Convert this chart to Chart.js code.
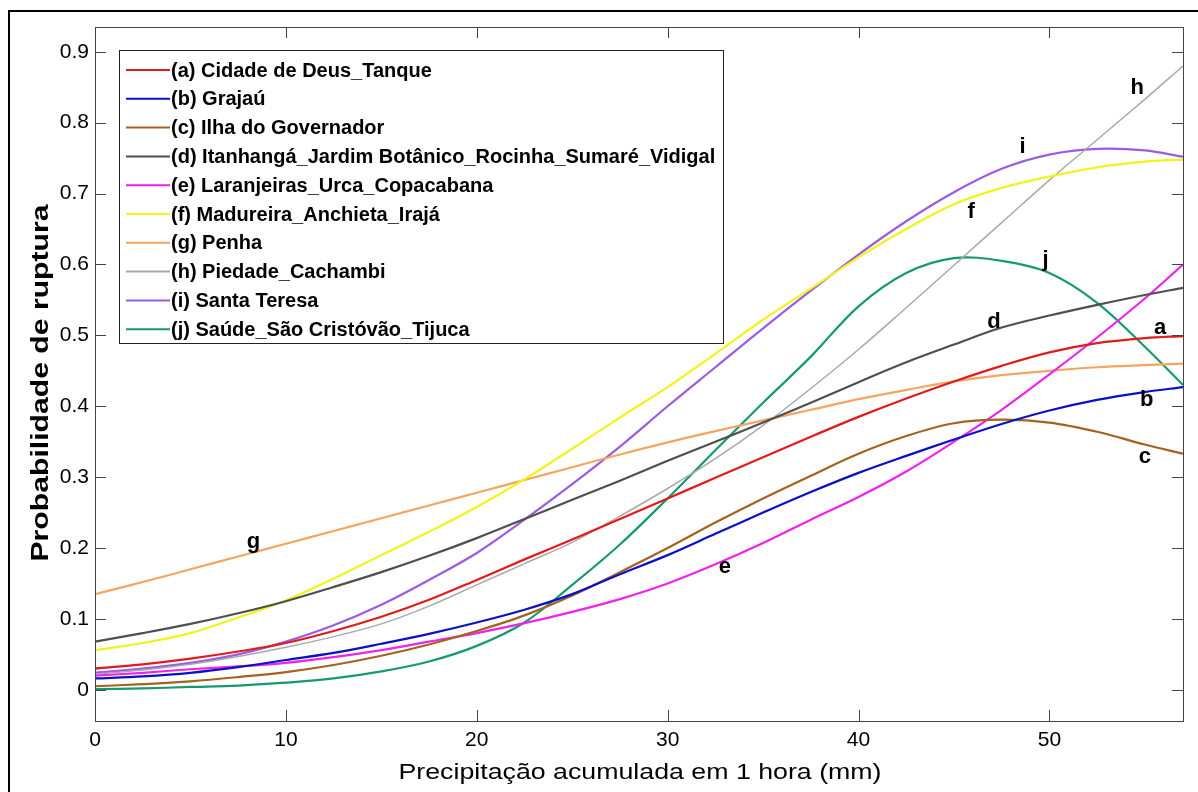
<!DOCTYPE html>
<html lang="pt-BR">
<head>
<meta charset="utf-8">
<title>Probabilidade de ruptura</title>
<script src="https://cdn.jsdelivr.net/npm/chart.js@4.4.1/dist/chart.umd.min.js"></script>
<style>
  body { margin: 0; background: #fff; }
  #moldura { position: absolute; left: 8px; top: 10px; width: 1200px; height: 800px;
             border-left: 2px solid #000; border-top: 2px solid #000; }
  #grafico { position: absolute; left: 0; top: 0; }
</style>
</head>
<body>
<div id="moldura"></div>
<canvas id="grafico" width="1198" height="792"></canvas>
<script>
// Precipitação acumulada em 1 hora (mm)
const precipitacao = [0, 2.5, 5, 7.5, 10, 12.5, 15, 17.5, 20, 22.5, 25, 27.5, 30, 32.5, 35, 37.5, 40, 42.5, 45, 47.5, 50, 52.5, 55, 57];

// Probabilidade de ruptura por região
const cidadeDeus   = [.030,.036,.044,.054,.066,.083,.103,.127,.155,.184,.212,.241,.270,.299,.328,.357,.385,.411,.435,.457,.476,.489,.496,.499];
const grajau       = [.016,.019,.024,.032,.042,.052,.065,.079,.095,.113,.135,.163,.190,.220,.250,.279,.306,.330,.353,.375,.394,.409,.420,.427];
const ilhaGov      = [.005,.008,.012,.018,.025,.035,.048,.064,.083,.105,.133,.166,.200,.236,.270,.302,.333,.358,.376,.381,.377,.364,.346,.333];
const itanhanga    = [.068,.080,.093,.108,.125,.145,.166,.189,.214,.241,.268,.295,.323,.350,.377,.405,.434,.462,.487,.511,.528,.543,.557,.567];
const laranjeiras  = [.020,.024,.029,.033,.038,.046,.056,.068,.080,.094,.110,.128,.150,.177,.207,.240,.272,.308,.350,.395,.445,.497,.552,.600];
const madureira    = [.056,.066,.080,.102,.126,.157,.190,.223,.258,.297,.340,.384,.427,.474,.522,.566,.610,.650,.685,.708,.724,.737,.745,.748];
const penha        = [.135,.152,.170,.188,.206,.224,.242,.260,.278,.296,.314,.332,.349,.365,.380,.395,.410,.423,.435,.444,.450,.455,.458,.460];
const piedade      = [.022,.028,.036,.047,.060,.075,.093,.118,.148,.178,.208,.245,.284,.326,.373,.425,.480,.539,.599,.659,.719,.776,.833,.880];
const santaTeresa  = [.024,.030,.038,.050,.068,.091,.120,.155,.193,.240,.290,.343,.400,.455,.510,.563,.614,.661,.702,.735,.755,.763,.761,.752];
const saudeTijuca  = [.001,.002,.004,.006,.010,.016,.026,.040,.062,.095,.148,.205,.270,.338,.405,.470,.541,.588,.609,.605,.588,.546,.484,.430];

const nomes = [
  '(a) Cidade de Deus_Tanque',
  '(b) Grajaú',
  '(c) Ilha do Governador',
  '(d) Itanhangá_Jardim Botânico_Rocinha_Sumaré_Vidigal',
  '(e) Laranjeiras_Urca_Copacabana',
  '(f) Madureira_Anchieta_Irajá',
  '(g) Penha',
  '(h) Piedade_Cachambi',
  '(i) Santa Teresa',
  '(j) Saúde_São Cristóvão_Tijuca'
];
const series = [cidadeDeus, grajau, ilhaGov, itanhanga, laranjeiras, madureira, penha, piedade, santaTeresa, saudeTijuca];
const cores = ['#e01b1b', '#0c10c4', '#a4621e', '#4f4f4f', '#ee22ee', '#f2f21c', '#f4a561', '#a9a9a9', '#9a5ce0', '#169a6c'];

const ticksX = [0, 10, 20, 30, 40, 50];
const ticksY = [0, 0.1, 0.2, 0.3, 0.4, 0.5, 0.6, 0.7, 0.8, 0.9];

const tituloX = 'Precipitação acumulada em 1 hora (mm)';
const tituloY = 'Probabilidade de ruptura';

// letras junto às curvas: [texto, x, y]
const letras = [
  ['a', 55.8, 0.511], ['b', 55.1, 0.409], ['c', 55.0, 0.329], ['d', 47.1, 0.519], ['e', 33.0, 0.173],
  ['f', 45.9, 0.674], ['g', 8.3, 0.209], ['h', 54.6, 0.849], ['i', 48.6, 0.766], ['j', 49.8, 0.606]
];

const fonte = '"Liberation Sans", Arial, sans-serif';

const datasets = series.map((valores, k) => ({
  label: nomes[k],
  data: valores.map((v, n) => ({ x: precipitacao[n], y: v })),
  borderColor: cores[k],
  borderWidth: k === 7 ? 1.5 : 2.2,
  pointRadius: 0,
  fill: false,
  tension: 0.35
}));

// caixa dos eixos com marcas para dentro, nos quatro lados
const eixosCaixa = {
  id: 'eixosCaixa',
  afterDatasetsDraw(chart) {
    const { ctx, chartArea: a, scales } = chart;
    ctx.save();
    ctx.strokeStyle = '#444';
    ctx.lineWidth = 1;
    ctx.beginPath();
    ticksX.forEach(v => {
      const px = Math.round(scales.x.getPixelForValue(v)) + 0.5;
      ctx.moveTo(px, a.bottom); ctx.lineTo(px, a.bottom - 11);
      ctx.moveTo(px, a.top); ctx.lineTo(px, a.top + 11);
    });
    ticksY.forEach(v => {
      const py = Math.round(scales.y.getPixelForValue(v)) + 0.5;
      ctx.moveTo(a.left, py); ctx.lineTo(a.left + 11, py);
      ctx.moveTo(a.right, py); ctx.lineTo(a.right - 11, py);
    });
    ctx.stroke();
    ctx.strokeRect(a.left + 0.5, a.top + 0.5, a.right - a.left, a.bottom - a.top);

    // letras das curvas
    ctx.fillStyle = '#000';
    ctx.font = 'bold 22px ' + fonte;
    ctx.textAlign = 'center';
    ctx.textBaseline = 'middle';
    letras.forEach(([t, x, y]) => {
      ctx.fillText(t, scales.x.getPixelForValue(x), scales.y.getPixelForValue(y));
    });
    ctx.restore();
  }
};

// títulos dos eixos, um pouco esticados no sentido do texto
const titulos = {
  id: 'titulos',
  afterDraw(chart) {
    const { ctx, chartArea: a } = chart;
    ctx.save();
    ctx.fillStyle = '#000';
    ctx.textAlign = 'center';
    ctx.textBaseline = 'middle';

    ctx.font = '22px ' + fonte;
    let esc = 483 / ctx.measureText(tituloX).width;
    ctx.translate((a.left + a.right) / 2 + 1, 773);
    ctx.scale(esc, 1);
    ctx.fillText(tituloX, 0, 0);
    ctx.setTransform(1, 0, 0, 1, 0, 0);

    ctx.font = 'bold 24px ' + fonte;
    esc = 357 / ctx.measureText(tituloY).width;
    ctx.translate(41, 383);
    ctx.rotate(-Math.PI / 2);
    ctx.scale(esc, 1);
    ctx.fillText(tituloY, 0, 0);
    ctx.restore();
  }
};

// legenda dentro da área do gráfico
const legendaCaixa = {
  id: 'legendaCaixa',
  afterDraw(chart) {
    const { ctx } = chart;
    const x0 = 119, y0 = 50, w = 604, h = 293;
    ctx.save();
    ctx.fillStyle = '#fff';
    ctx.fillRect(x0, y0, w, h);
    ctx.strokeStyle = '#222';
    ctx.lineWidth = 1;
    ctx.strokeRect(x0 + 0.5, y0 + 0.5, w, h);
    ctx.font = 'bold 20px ' + fonte;
    ctx.textBaseline = 'middle';
    ctx.textAlign = 'left';
    chart.data.datasets.forEach((ds, k) => {
      const y = y0 + 20 + k * 28.8;
      ctx.strokeStyle = ds.borderColor;
      ctx.lineWidth = 2;
      ctx.beginPath();
      ctx.moveTo(x0 + 7, y); ctx.lineTo(x0 + 51, y);
      ctx.stroke();
      ctx.fillStyle = '#000';
      ctx.fillText(ds.label, x0 + 52, y + 1);
    });
    ctx.restore();
  }
};

const config = {
  type: 'line',
  data: { datasets },
  options: {
    responsive: false,
    animation: false,
    layout: { padding: { top: 27, right: 15, left: 0, bottom: 0 } },
    plugins: { legend: { display: false }, tooltip: { enabled: false } },
    scales: {
      x: {
        type: 'linear',
        min: 0,
        max: 57,
        afterBuildTicks: s => { s.ticks = ticksX.map(v => ({ value: v })); },
        afterFit: s => { s.height = 71; },
        grid: { display: false, drawTicks: false },
        border: { display: false },
        ticks: { color: '#000', font: { family: fonte, size: 21 }, padding: 7, maxRotation: 0 }
      },
      y: {
        type: 'linear',
        min: -0.044,
        max: 0.935,
        afterBuildTicks: s => { s.ticks = ticksY.map(v => ({ value: v })); },
        afterFit: s => { s.width = 95; },
        grid: { display: false, drawTicks: false },
        border: { display: false },
        ticks: { color: '#000', font: { family: fonte, size: 21 }, padding: 6,
                 callback: v => String(Math.round(v * 10) / 10) }
      }
    }
  },
  plugins: [eixosCaixa, legendaCaixa, titulos]
};

const grafico = new Chart(document.getElementById('grafico'), config);
</script>
</body>
</html>
